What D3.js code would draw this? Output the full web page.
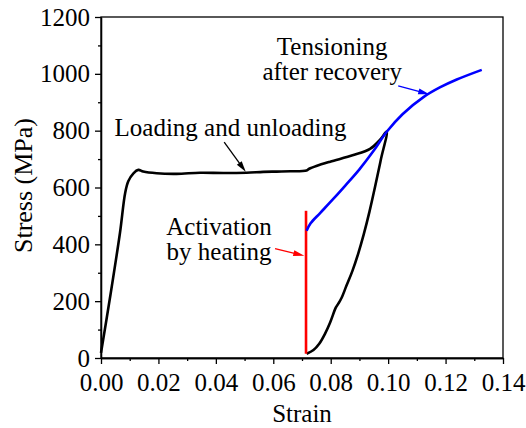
<!DOCTYPE html>
<html>
<head>
<meta charset="utf-8">
<script src="https://cdn.jsdelivr.net/npm/d3@7"></script>
</head>
<body style="margin:0">
<svg id="chart" width="526" height="428"></svg>
<script>
// ---- data ----
// loading + unloading curve (black)
var loadStrain = [0.0000, 0.0031, 0.0066, 0.0084, 0.0095, 0.0113, 0.0130, 0.0147, 0.0194, 0.0263,
  0.0345, 0.0426, 0.0507, 0.0565, 0.0612, 0.0660, 0.0716, 0.0725, 0.0750, 0.0798, 0.0879,
  0.0937, 0.0972, 0.0995];
var loadStress = [18, 210, 440, 580, 622, 650, 662, 656, 650, 648,
  652, 651, 652, 655, 656, 657, 660, 666, 676, 691, 714,
  736, 768, 797];
var unloadStrain = [0.0995, 0.0975, 0.0955, 0.0935, 0.0915, 0.0895, 0.0875, 0.0855, 0.0838, 0.0827, 0.0818, 0.0798, 0.0780, 0.0760, 0.0740, 0.0716];
var unloadStress = [797, 700, 605, 515, 435, 365, 305, 255, 212, 192, 178, 125, 85, 50, 28, 15];

// heating at constant strain (red)
var heatStrain = [0.0714, 0.0714];
var heatStress = [15, 518];

// tensioning after recovery (blue)
var tensionStrain = [0.0716, 0.0730, 0.0763, 0.0800, 0.0850, 0.0900, 0.0950, 0.0995, 0.1050, 0.1123, 0.1180, 0.1239, 0.1326];
var tensionStress = [448, 474, 510, 550, 606, 664, 730, 796, 858, 918, 952, 980, 1014];

// axis ticks
var xTicks = [0.00, 0.02, 0.04, 0.06, 0.08, 0.10, 0.12, 0.14];
var xMinor = [0.01, 0.03, 0.05, 0.07, 0.09, 0.11, 0.13];
var yTicks = [0, 200, 400, 600, 800, 1000, 1200];
var yMinor = [100, 300, 500, 700, 900, 1100];

var FONT = "Liberation Serif";

// SVG area
var svgWidth = 526;
var svgHeight = 428;

var chartMargin = {
  top: 17,
  right: 23,
  bottom: 70,
  left: 101
};

var chartWidth = svgWidth - chartMargin.left - chartMargin.right;
var chartHeight = svgHeight - chartMargin.top - chartMargin.bottom;

var svg = d3.select("#chart");

var chartGroup = svg.append("g")
  .attr("transform", `translate(${chartMargin.left}, ${chartMargin.top})`);

var xScale = d3.scaleLinear().domain([0, 0.14]).range([0, chartWidth]);
var yScale = d3.scaleLinear().domain([0, 1200]).range([chartHeight, 0]);

// frame (top + right)
chartGroup.append("rect")
  .attr("x", 0).attr("y", 0)
  .attr("width", chartWidth).attr("height", chartHeight)
  .attr("fill", "none").attr("stroke", "#000").attr("stroke-width", 1.3);

// axes
var bottomAxis = d3.axisBottom(xScale)
  .tickValues(xTicks)
  .tickFormat(d3.format(".2f"))
  .tickSizeInner(6).tickSizeOuter(0).tickPadding(9);
var leftAxis = d3.axisLeft(yScale)
  .tickValues(yTicks)
  .tickFormat(d3.format("d"))
  .tickSizeInner(6).tickSizeOuter(0).tickPadding(5);

chartGroup.append("g")
  .attr("transform", `translate(0, ${chartHeight})`)
  .call(bottomAxis);
chartGroup.append("g").call(leftAxis);

chartGroup.append("g")
  .attr("transform", `translate(0, ${chartHeight})`)
  .call(d3.axisBottom(xScale).tickValues(xMinor).tickFormat("").tickSizeInner(3).tickSizeOuter(0));
chartGroup.append("g")
  .call(d3.axisLeft(yScale).tickValues(yMinor).tickFormat("").tickSizeInner(3).tickSizeOuter(0));

chartGroup.selectAll(".domain, .tick line").attr("stroke", "#000").attr("stroke-width", 1.3);
chartGroup.selectAll(".tick text")
  .attr("font-family", FONT)
  .attr("font-size", 25)
  .attr("fill", "#000");

// axis titles
svg.append("text")
  .attr("x", chartMargin.left + chartWidth / 2)
  .attr("y", 422)
  .attr("text-anchor", "middle")
  .attr("font-family", FONT)
  .attr("font-size", 25)
  .text("Strain");

svg.append("text")
  .attr("transform", `translate(32, ${chartMargin.top + chartHeight / 2 - 2}) rotate(-90)`)
  .attr("text-anchor", "middle")
  .attr("font-family", FONT)
  .attr("font-size", 26)
  .text("Stress (MPa)");

// curves
var smooth = d3.line()
  .x(d => xScale(d[0]))
  .y(d => yScale(d[1]))
  .curve(d3.curveCatmullRom);

var straight = d3.line()
  .x(d => xScale(d[0]))
  .y(d => yScale(d[1]));

var loadData = d3.zip(loadStrain, loadStress).concat(d3.zip(unloadStrain, unloadStress).slice(1));
var heatData = d3.zip(heatStrain, heatStress);
var tensionData = d3.zip(tensionStrain, tensionStress);

chartGroup.append("path")
  .datum(loadData)
  .attr("d", smooth)
  .attr("fill", "none").attr("stroke", "#000").attr("stroke-width", 2.6)
  .attr("stroke-linejoin", "round");

chartGroup.append("path")
  .datum(heatData)
  .attr("d", straight)
  .attr("fill", "none").attr("stroke", "#ff0000").attr("stroke-width", 2.6);

chartGroup.append("path")
  .datum(tensionData)
  .attr("d", smooth)
  .attr("fill", "none").attr("stroke", "#0000ff").attr("stroke-width", 2.6);

// annotations (positions in data units)
var notes = [
  { lines: ["Loading and unloading"], x: 0.0451, y: 780, from: [0.0429, 760], to: [0.0504, 655], color: "#000" },
  { lines: ["Activation", "by heating"], x: 0.0411, y: 432, from: [0.0606, 385], to: [0.0708, 360], color: "#ff0000" },
  { lines: ["Tensioning", "after recovery"], x: 0.0805, y: 1066, from: [0.1035, 958], to: [0.1143, 928], color: "#0000ff" }
];

notes.forEach(function(n) {
  n.lines.forEach(function(s, i) {
    chartGroup.append("text")
      .attr("x", xScale(n.x))
      .attr("y", yScale(n.y) + i * 25)
      .attr("text-anchor", "middle")
      .attr("font-family", FONT)
      .attr("font-size", 25)
      .text(s);
  });
  var x1 = xScale(n.from[0]), y1 = yScale(n.from[1]);
  var x2 = xScale(n.to[0]), y2 = yScale(n.to[1]);
  var ang = Math.atan2(y2 - y1, x2 - x1) * 180 / Math.PI;
  var len = Math.hypot(x2 - x1, y2 - y1);
  var arrow = chartGroup.append("g")
    .attr("transform", `translate(${x1}, ${y1}) rotate(${ang})`);
  arrow.append("line")
    .attr("x1", 0).attr("y1", 0)
    .attr("x2", len - 8).attr("y2", 0)
    .attr("stroke", n.color).attr("stroke-width", 1.3);
  arrow.append("path")
    .attr("d", `M${len - 11},-3 L${len},0 L${len - 11},3 Z`)
    .attr("fill", n.color);
});
</script>
</body>
</html>
